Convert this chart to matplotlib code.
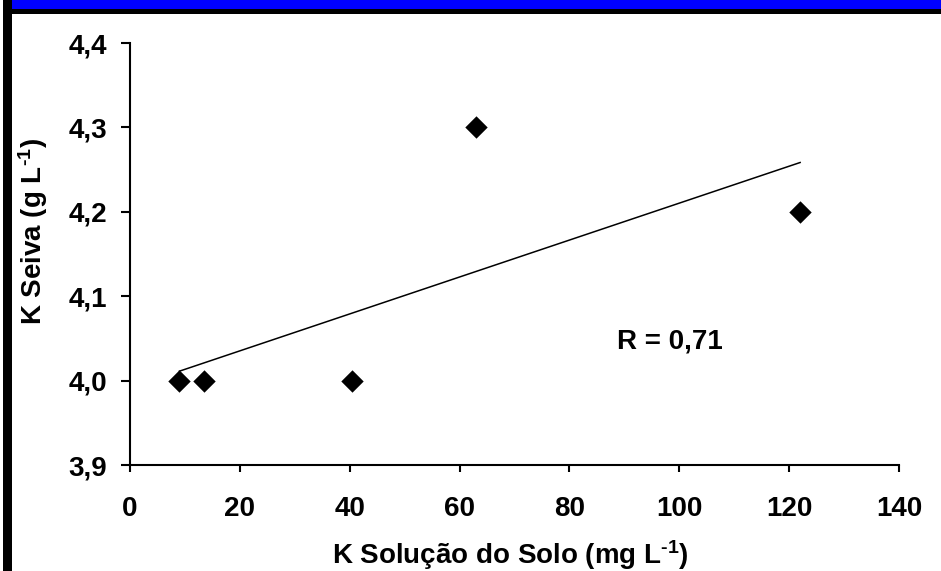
import matplotlib
matplotlib.use("Agg")
import matplotlib.pyplot as plt
import numpy as np
from matplotlib.patches import Rectangle

# data
k_solucao = [9, 13.5, 40.5, 63, 122]       # K Solução do Solo (mg L-1)
k_seiva = [4.0, 4.0, 4.0, 4.3, 4.2]        # K Seiva (g L-1)
x_ticks = [0, 20, 40, 60, 80, 100, 120, 140]
y_ticks = [3.9, 4.0, 4.1, 4.2, 4.3, 4.4]
y_ticklabels = ["3,9", "4,0", "4,1", "4,2", "4,3", "4,4"]
r_label = "R = 0,71"

plt.rcParams["font.family"] = ["Liberation Sans", "DejaVu Sans"]
plt.rcParams["font.weight"] = "bold"
plt.rcParams["mathtext.fontset"] = "custom"
plt.rcParams["mathtext.rm"] = "Liberation Sans:bold"
plt.rcParams["mathtext.bf"] = "Liberation Sans:bold"
plt.rcParams["mathtext.it"] = "Liberation Sans:bold"

W, H = 941, 571
fig = plt.figure(figsize=(W / 100, H / 100), dpi=100)
fig.patch.set_facecolor("white")

# frame decoration: blue band on top, black strips
fig.patches.append(Rectangle((6 / W, 1 - 9 / H), 1, 9 / H, transform=fig.transFigure,
                             facecolor="#0000ff", edgecolor="none"))
fig.patches.append(Rectangle((3 / W, 1 - 14 / H), 1, 5 / H, transform=fig.transFigure,
                             facecolor="black", edgecolor="none"))
fig.patches.append(Rectangle((3 / W, 0), 9 / W, 1, transform=fig.transFigure,
                             facecolor="black", edgecolor="none"))

ax = fig.add_axes([130 / W, 1 - 465 / H, 769 / W, 422 / H])

ax.scatter(k_solucao, k_seiva, marker="D", s=130, color="black", zorder=3,
           linewidths=0)

# linear trend line over the data range
coef = np.polyfit(k_solucao, k_seiva, 1)
xs = np.array([min(k_solucao), max(k_solucao)])
ax.plot(xs, np.polyval(coef, xs), color="black", lw=1.1, zorder=2)

ax.text(98.3, 4.046, r_label, fontsize=20, fontweight="bold",
        ha="center", va="center")

ax.set_xlim(0, 140)
ax.set_ylim(3.9, 4.4)
ax.set_xticks(x_ticks)
ax.set_yticks(y_ticks)
ax.set_yticklabels(y_ticklabels)

for side in ["top", "right"]:
    ax.spines[side].set_visible(False)
for side in ["left", "bottom"]:
    ax.spines[side].set_linewidth(1.5)

ax.tick_params(axis="y", direction="out", length=6.5, width=1.5, pad=10,
               labelsize=20)
ax.tick_params(axis="x", direction="out", length=5, width=1.5, pad=17.5,
               labelsize=20)
for lab in ax.get_xticklabels() + ax.get_yticklabels():
    lab.set_fontweight("bold")

ax.set_xlabel(r"K Solução do Solo (mg L$^{\text{-1}}$)", fontsize=20, fontweight="bold")
ax.set_ylabel(r"K Seiva (g L$^{\text{-1}}$)", fontsize=20, fontweight="bold")
ax.xaxis.set_label_coords(0.494, -0.213)
ax.yaxis.set_label_coords(-0.126, 0.554)
ax.xaxis.label.set_va("center")
ax.yaxis.label.set_va("center")

fig.savefig("out.png", dpi=100)
